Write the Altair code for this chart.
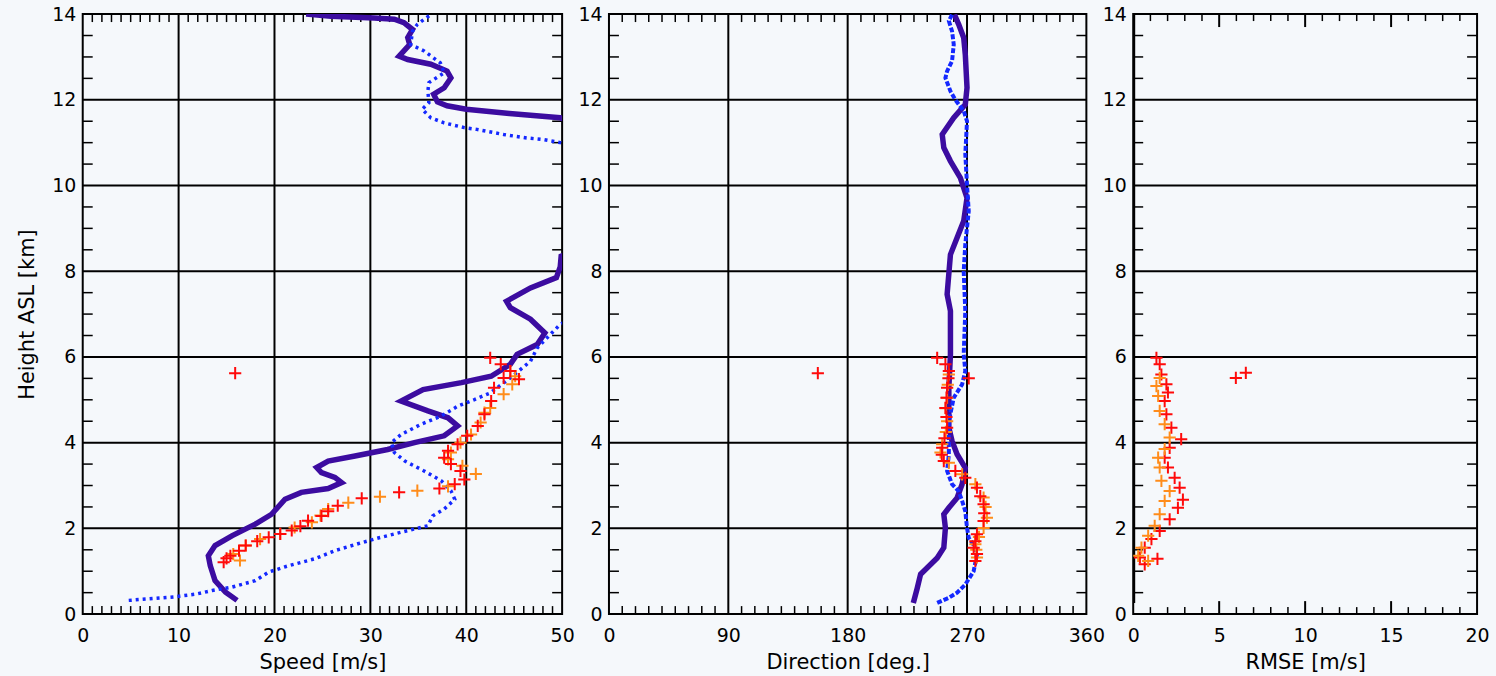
import altair as alt
import pandas as pd

# ---------------- data ----------------
# Speed panel
spd_purple_lo_h = [0.32, 0.51, 0.78, 1.13, 1.36, 1.6, 1.83, 2.1, 2.33, 2.68, 2.84, 2.93, 3.07, 3.19, 3.3, 3.42, 3.57, 3.69, 3.84, 4.0, 4.16, 4.39, 4.58, 4.74, 4.97, 5.24, 5.4, 5.55, 5.83, 6.06, 6.29, 6.56, 6.88, 7.15, 7.3, 7.61, 7.85, 8.1, 8.35, 8.45]
spd_purple_lo_v = [16.1, 14.9, 13.8, 13.3, 13.1, 13.8, 15.6, 18.0, 19.7, 21.1, 22.8, 25.6, 27.0, 26.3, 24.9, 24.4, 25.6, 28.4, 31.8, 34.6, 37.7, 39.1, 38.1, 36.0, 33.2, 35.5, 39.5, 42.6, 44.6, 45.3, 47.4, 48.2, 46.7, 44.6, 44.2, 46.7, 49.4, 49.8, 49.9, 51.0]
spd_purple_hi_h = [11.5, 11.58, 11.68, 11.78, 11.86, 11.95, 12.13, 12.28, 12.51, 12.67, 12.83, 12.94, 13.02, 13.14, 13.29, 13.45, 13.64, 13.8, 13.88, 13.91, 13.95, 14.0]
spd_purple_hi_v = [51.0, 49.8, 44.5, 40.0, 38.0, 37.0, 36.6, 37.7, 38.4, 38.0, 36.3, 33.9, 33.0, 33.5, 34.1, 33.9, 34.4, 33.5, 32.5, 30.4, 25.9, 23.3]
spd_blue_lo_h = [0.32, 0.4, 0.47, 0.55, 0.63, 0.78, 0.98, 1.13, 1.29, 1.48, 1.64, 1.75, 1.91, 2.06, 2.29, 2.45, 2.68, 2.88, 3.11, 3.34, 3.57, 3.77, 4.0, 4.19, 4.43, 4.62, 4.85, 5.0, 5.16, 5.51, 5.9, 6.21, 6.6, 6.76, 6.85]
spd_blue_lo_v = [4.8, 9.5, 11.9, 13.5, 15.6, 18.0, 19.4, 21.5, 24.2, 26.3, 28.7, 30.4, 33.2, 36.0, 36.5, 37.7, 38.8, 38.4, 37.4, 35.6, 33.6, 32.5, 32.2, 33.2, 35.3, 37.4, 39.1, 40.8, 42.5, 44.6, 46.7, 47.4, 49.1, 49.8, 50.6]
spd_blue_hi_h = [10.95, 11.0, 11.07, 11.11, 11.19, 11.31, 11.35, 11.46, 11.58, 11.78, 11.93, 12.2, 12.4, 12.63, 12.86, 13.14, 13.29, 13.6, 13.76, 13.99]
spd_blue_hi_v = [50.6, 49.8, 48.1, 46.3, 43.9, 41.1, 39.8, 37.7, 36.3, 35.4, 36.1, 36.0, 36.1, 37.7, 37.3, 35.6, 34.2, 34.4, 34.9, 36.3]
spd_red_h = [1.21, 1.3, 1.36, 1.48, 1.6, 1.7, 1.79, 1.87, 1.95, 2.05, 2.18, 2.29, 2.4, 2.53, 2.7, 2.84, 2.93, 3.03, 3.14, 3.34, 3.5, 3.65, 3.81, 3.96, 4.16, 4.39, 4.66, 4.97, 5.28, 5.48, 5.51, 5.67, 5.83, 5.98, 5.62]
spd_red_v = [14.7, 15.0, 15.4, 16.3, 17.0, 18.2, 19.4, 20.6, 21.8, 22.7, 23.5, 24.9, 25.6, 26.6, 29.1, 33.0, 37.2, 38.8, 39.8, 39.4, 38.4, 37.7, 38.1, 39.1, 40.1, 41.2, 41.9, 42.6, 42.9, 45.5, 43.9, 44.6, 43.6, 42.5, 15.9]
spd_orange_h = [1.25, 1.4, 1.6, 1.75, 1.87, 2.02, 2.14, 2.3, 2.45, 2.6, 2.74, 2.88, 2.98, 3.27, 3.46, 3.61, 3.77, 4.0, 4.19, 4.47, 4.7, 4.81, 5.13, 5.36, 5.55, 5.67]
spd_orange_v = [16.4, 15.7, 17.0, 18.5, 20.6, 22.1, 23.9, 24.8, 25.6, 27.7, 31.0, 34.9, 38.1, 41.0, 39.6, 38.1, 38.4, 39.4, 40.5, 41.5, 41.9, 42.5, 43.9, 44.8, 45.1, 44.6]

# Direction panel
dir_purple_h = [0.26, 0.61, 0.93, 1.08, 1.31, 1.55, 2.01, 2.33, 2.48, 2.71, 3.03, 3.41, 3.73, 4.04, 4.35, 5.28, 6.06, 7.07, 7.46, 8.39, 8.78, 9.17, 9.71, 10.18, 10.57, 10.88, 11.19, 11.58, 11.89, 12.28, 13.06, 13.45, 13.76, 13.99]
dir_purple_v = [229.5, 232.5, 235.0, 240.0, 247.5, 252.5, 253.7, 252.5, 256.3, 262.5, 266.3, 268.7, 262.5, 258.7, 256.3, 256.3, 257.5, 257.5, 255.0, 257.5, 262.5, 267.5, 270.0, 265.0, 257.5, 252.5, 251.3, 260.0, 268.7, 270.0, 268.7, 267.5, 263.7, 260.5]
dir_blue_h = [0.26, 0.38, 0.5, 0.69, 1.0, 1.39, 1.55, 1.78, 2.01, 2.4, 2.64, 2.87, 3.03, 3.34, 3.73, 4.5, 5.05, 5.36, 5.67, 6.06, 7.07, 8.0, 8.63, 9.4, 10.02, 10.73, 11.5, 11.74, 12.0, 12.2, 12.51, 12.67, 12.9, 13.29, 13.6, 13.84, 13.99]
dir_blue_v = [247.5, 256.3, 262.5, 268.7, 275.0, 277.5, 276.3, 271.3, 270.0, 268.7, 266.3, 263.7, 258.7, 255.0, 256.3, 256.3, 260.0, 266.3, 268.7, 267.5, 268.7, 267.5, 268.7, 271.3, 270.0, 268.7, 270.0, 267.5, 261.2, 257.5, 253.7, 255.0, 258.7, 260.0, 258.7, 256.3, 258.7]
dir_red_h = [1.24, 1.4, 1.55, 1.7, 1.86, 2.17, 2.35, 2.56, 2.75, 2.95, 3.18, 3.34, 3.57, 3.72, 3.88, 4.1, 4.35, 4.6, 4.81, 5.05, 5.28, 5.5, 5.67, 5.83, 5.98, 5.5, 5.62]
dir_red_v = [276.3, 277.5, 275.0, 276.3, 277.5, 282.5, 283.0, 282.5, 280.0, 277.5, 268.7, 261.2, 252.5, 251.0, 251.3, 253.0, 255.0, 254.5, 253.7, 254.5, 255.0, 256.0, 256.3, 253.7, 247.5, 271.3, 157.5]
dir_orange_h = [1.32, 1.5, 1.63, 1.8, 2.01, 2.25, 2.5, 2.72, 3.03, 3.26, 3.53, 3.77, 3.96, 4.25, 4.5, 4.8, 5.05, 5.35, 5.59]
dir_orange_v = [277.5, 277.0, 276.3, 279.0, 282.5, 285.0, 284.0, 282.5, 276.3, 266.3, 256.3, 250.0, 251.3, 254.0, 255.0, 254.0, 255.0, 255.5, 256.3]

# RMSE panel
rmse_red_h = [5.98, 5.83, 5.59, 5.36, 5.17, 4.97, 4.66, 4.35, 4.08, 3.88, 3.65, 3.42, 3.18, 2.95, 2.67, 2.48, 2.21, 1.94, 1.75, 1.55, 1.32, 1.16, 1.29, 5.51, 5.63]
rmse_red_v = [1.35, 1.54, 1.64, 1.93, 2.02, 1.83, 1.93, 2.22, 2.79, 2.12, 1.83, 2.02, 2.41, 2.7, 2.89, 2.6, 2.12, 1.54, 1.06, 0.67, 0.39, 0.67, 1.41, 5.97, 6.55]
rmse_orange_h = [5.51, 5.32, 5.09, 4.74, 4.43, 4.12, 3.85, 3.65, 3.42, 3.11, 2.87, 2.64, 2.33, 2.06, 1.83, 1.55, 1.36, 1.24]
rmse_orange_v = [1.54, 1.35, 1.45, 1.54, 1.83, 2.12, 1.83, 1.45, 1.54, 1.64, 2.12, 1.83, 1.54, 1.25, 0.87, 0.48, 0.29, 0.87]
rmse_zero_h = [0.26, 14.0]
rmse_zero_v = [0.0, 0.0]

# axes / ticks
y_major = [0, 2, 4, 6, 8, 10, 12, 14]
y_minor = [0.5 * i for i in range(1, 28) if i % 4]
spd_major = [0, 10, 20, 30, 40, 50]
spd_minor = [i for i in range(1, 50) if i % 10]
dir_major = [0, 90, 180, 270, 360]
dir_minor = [i for i in range(10, 360, 10) if i % 90]
rmse_major = [0, 5, 10, 15, 20]
rmse_major_inner = [5, 10, 15]
rmse_minor = [i for i in range(1, 20) if i % 5]

PURPLE = "#3c0ca0"
BLUE = "#1428ff"
RED = "#ff0a0a"
ORANGE = "#ff8c1a"
FONT = "DejaVu Sans"
H = 602
PLUS = "M-1,0L1,0M0,-1L0,1"


def df(h, v, seg=0):
    return pd.DataFrame({"h": h, "v": v, "i": list(range(len(h))), "seg": [seg] * len(h)})


def panel(width, xdomain, xmajor, xminor, xtitle, lines, points, ytitle=None,
          vgrid=True, inner_major=None, thick_zero=None):
    xs = alt.Scale(domain=xdomain, nice=False, zero=False)
    ys = alt.Scale(domain=[0, 14], nice=False, zero=False)
    xaxis = alt.Axis(values=xmajor, grid=False, ticks=False, domain=False, labelFlush=False,
                     labelPadding=13, title=xtitle, titlePadding=6, format="d")
    yaxis = alt.Axis(values=y_major, grid=False, ticks=False, domain=False, labelPadding=7,
                     labelFlush=False, format="d", title=ytitle if ytitle else "", titlePadding=14)

    def X(f):
        return alt.X(f, scale=xs, axis=xaxis)

    def Y(f):
        return alt.Y(f, scale=ys, axis=yaxis)

    layers = []
    if vgrid:
        layers.append(alt.Chart(pd.DataFrame({"t": xmajor[1:-1]})).mark_rule(color="black", strokeWidth=2).encode(
            x=X("t:Q"), y=alt.value(0), y2=alt.value(H)))
    else:
        tdf = pd.DataFrame({"t": inner_major})
        layers.append(alt.Chart(tdf).mark_rule(color="black", strokeWidth=2).encode(
            x=X("t:Q"), y=alt.value(H), y2=alt.value(H - 13)))
        layers.append(alt.Chart(tdf).mark_rule(color="black", strokeWidth=2).encode(
            x=X("t:Q"), y=alt.value(0), y2=alt.value(13)))
    layers.append(alt.Chart(pd.DataFrame({"g": y_major[1:-1]})).mark_rule(color="black", strokeWidth=2).encode(
        y=Y("g:Q"), x=alt.value(0), x2=alt.value(width)))
    xl = 7 if not vgrid else 8
    mdf = pd.DataFrame({"t": xminor})
    layers.append(alt.Chart(mdf).mark_rule(color="black", strokeWidth=1.5).encode(
        x=X("t:Q"), y=alt.value(0), y2=alt.value(xl)))
    layers.append(alt.Chart(mdf).mark_rule(color="black", strokeWidth=1.5).encode(
        x=X("t:Q"), y=alt.value(H), y2=alt.value(H - xl)))
    ydf = pd.DataFrame({"t": y_minor})
    layers.append(alt.Chart(ydf).mark_rule(color="black", strokeWidth=1.5).encode(
        y=Y("t:Q"), x=alt.value(0), x2=alt.value(10)))
    layers.append(alt.Chart(ydf).mark_rule(color="black", strokeWidth=1.5).encode(
        y=Y("t:Q"), x=alt.value(width), x2=alt.value(width - 10)))
    if thick_zero is not None:
        layers.append(alt.Chart(thick_zero).mark_line(color="black", strokeWidth=4, clip=True).encode(
            x=X("v:Q"), y=Y("h:Q"), order="i:Q"))
    for d, color, w, dash in lines:
        kw = dict(color=color, strokeWidth=w, clip=True)
        if dash:
            kw["strokeDash"] = dash
        layers.append(alt.Chart(d).mark_line(**kw).encode(
            x=X("v:Q"), y=Y("h:Q"), detail="seg:N", order="i:Q"))
    for d, color in points:
        layers.append(alt.Chart(d).mark_point(shape=PLUS, filled=False, color=color, size=150,
                                              strokeWidth=2, opacity=1, clip=True).encode(
            x=X("v:Q"), y=Y("h:Q")))
    return alt.layer(*layers).properties(width=width, height=H)


p1 = panel(
    481, [0, 50], spd_major, spd_minor, "Speed [m/s]",
    lines=[
        (pd.concat([df(spd_purple_lo_h, spd_purple_lo_v, 0), df(spd_purple_hi_h, spd_purple_hi_v, 1)]), PURPLE, 5.5, None),
        (pd.concat([df(spd_blue_lo_h, spd_blue_lo_v, 0), df(spd_blue_hi_h, spd_blue_hi_v, 1)]), BLUE, 3.5, [3, 4]),
    ],
    points=[(df(spd_orange_h, spd_orange_v), ORANGE), (df(spd_red_h, spd_red_v), RED)],
    ytitle="Height ASL [km]",
)
p2 = panel(
    479, [0, 360], dir_major, dir_minor, "Direction [deg.]",
    lines=[
        (df(dir_purple_h, dir_purple_v), PURPLE, 5.5, None),
        (df(dir_blue_h, dir_blue_v), BLUE, 4, [5, 2]),
    ],
    points=[(df(dir_orange_h, dir_orange_v), ORANGE), (df(dir_red_h, dir_red_v), RED)],
)
p3 = panel(
    345, [0, 20], rmse_major, rmse_minor, "RMSE [m/s]",
    lines=[],
    points=[(df(rmse_red_h, rmse_red_v), RED), (df(rmse_orange_h, rmse_orange_v), ORANGE)],
    vgrid=False, inner_major=rmse_major_inner, thick_zero=df(rmse_zero_h, rmse_zero_v),
)

chart = alt.hconcat(p1, p2, p3, spacing=47, bounds="flush").properties(
    background="#f5f8fb",
    padding={"left": 15, "top": 3, "right": 5, "bottom": 3},
).configure_view(stroke="black", strokeWidth=2).configure_axis(
    labelFont=FONT, labelFontSize=19, labelColor="black",
    titleFont=FONT, titleFontSize=21, titleFontWeight="normal", titleColor="black",
)

chart.save("out.html", embed_options={"renderer": "svg", "actions": False})
